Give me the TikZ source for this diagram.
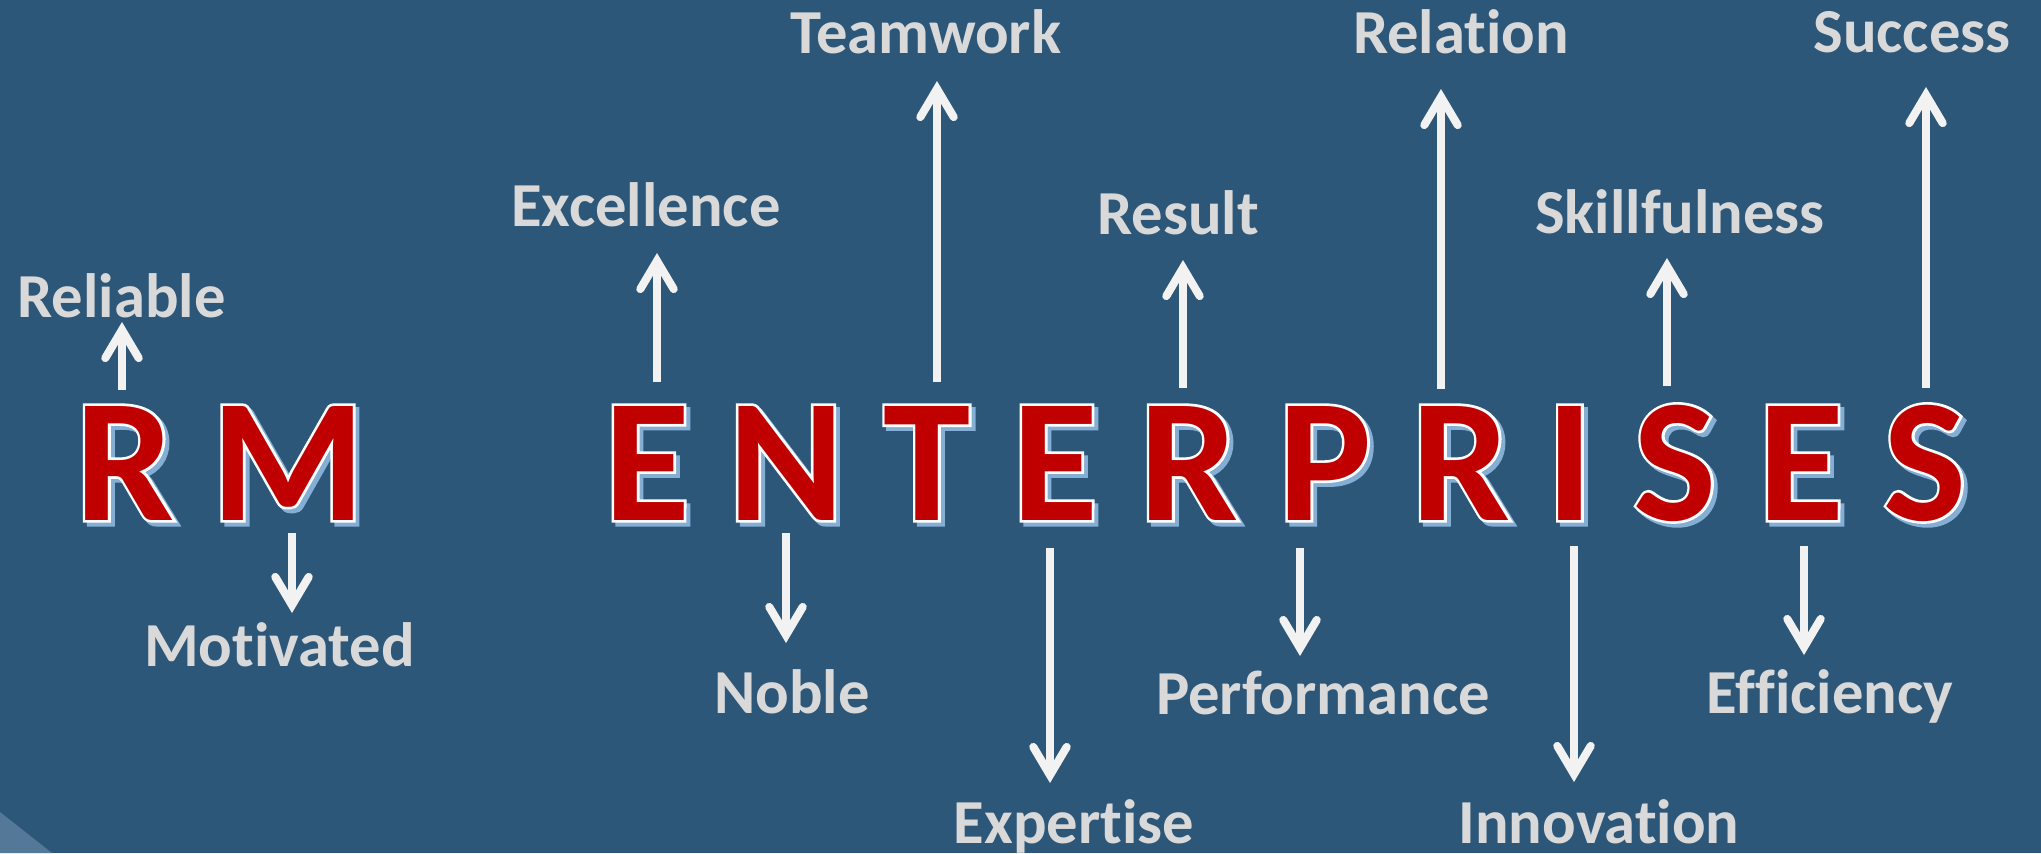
\documentclass[tikz,border=0pt]{standalone}
\usepackage{fontspec}
\setmainfont{Carlito}[Ligatures=NoCommon]
\newfontfamily\halofont{Carlito}[FakeBold=3,Ligatures=NoCommon]
\usepackage{xcolor}
\usetikzlibrary{arrows.meta}

\definecolor{slidebg}{RGB}{45,87,121}
\definecolor{slidecorner}{RGB}{84,121,152}
\definecolor{letterred}{RGB}{192,0,0}
\definecolor{lettershadow}{RGB}{132,174,212}
\definecolor{wordgray}{RGB}{217,217,217}
\definecolor{arrowwhite}{RGB}{242,242,242}

% red capital with white rim and pale blue shadow
\newcommand{\rimletter}[1]{%
  \makebox[0pt][l]{\hspace*{1.1pt}\raisebox{-1.1pt}{\color{lettershadow}\halofont\bfseries#1}}%
  \makebox[0pt][l]{\color{white}\halofont\bfseries#1}%
  #1}

\tikzset{
  letter/.style={inner sep=0pt, anchor=base, text=letterred,
    font=\bfseries\fontsize{50}{50}\selectfont},
  word/.style={inner sep=0pt, anchor=base, text=wordgray,
    font=\bfseries\fontsize{17.8}{20}\selectfont},
  pointer/.style={draw=arrowwhite, line width=2.3pt,
    -{Straight Barb[length=8pt,width=9.5pt,line cap=round]}},
}

\begin{document}
\begin{tikzpicture}[x=0.01cm,y=-0.01cm]
  \useasboundingbox (0,0) rectangle (2041,853);
  \fill[slidebg] (0,0) rectangle (2041,853);
  \fill[slidecorner] (0,812) -- (52,853) -- (0,853) -- cycle;

  \path (125,520)
    node[letter] (R1) {\rimletter{R}} ++(163,0)
    node[letter] (M1) {\rimletter{M}} ++(359,0)
    node[letter] (E1) {\rimletter{E}} ++(139,0)
    node[letter] (N1) {\rimletter{N}} ++(141,0)
    node[letter] (T1) {\rimletter{T}} ++(128,0)
    node[letter] (E2) {\rimletter{E}} ++(134,0)
    node[letter] (R2) {\rimletter{R}} ++(136,0)
    node[letter] (P1) {\rimletter{P}} ++(136,0)
    node[letter] (R3) {\rimletter{R}} ++(109,0)
    node[letter] (I1) {\rimletter{I}} ++(105,0)
    node[letter] (S1) {\rimletter{S}} ++(126,0)
    node[letter] (E3) {\rimletter{E}} ++(124,0)
    node[letter] (S2) {\rimletter{S}}
    ;

  \node[word] (rel)  at (121.5,317) {Reliable};
  \node[word] (mot)  at (279.5,666) {Motivated};
  \node[word] (exc)  at (646,226)   {Excellence};
  \node[word] (team) at (926,53)    {Teamwork};
  \node[word] (nob)  at (792,713)   {Noble};
  \node[word] (expt) at (1074,843)  {Expertise};
  \node[word] (res)  at (1178,234)  {Result};
  \node[word] (perf) at (1323,714)  {Performance};
  \node[word] (rela) at (1461,53)   {Relation};
  \node[word] (inno) at (1599,843)  {Innovation};
  \node[word] (skil) at (1680,233)  {Skillfulness};
  \node[word] (eff)  at (1830,713)  {Efficiency};
  \node[word] (succ) at (1912,52)   {Success};

  \path (R1.base) +(-3,-130) coordinate (relo);
  \path (rel.base) +(0.5,5) coordinate (reli);
  \draw[pointer] (relo) -- (reli);
  \path (M1.base) +(4,13) coordinate (moto);
  \path (mot.base) +(12.5,-53) coordinate (moti);
  \draw[pointer] (moto) -- (moti);
  \path (E1.base) +(10,-138) coordinate (exco);
  \path (exc.base) +(11,27) coordinate (exci);
  \draw[pointer] (exco) -- (exci);
  \path (T1.base) +(10,-138) coordinate (teamo);
  \path (team.base) +(11,28) coordinate (teami);
  \draw[pointer] (teamo) -- (teami);
  \path (N1.base) +(0,13) coordinate (nobo);
  \path (nob.base) +(-6,-70) coordinate (nobi);
  \draw[pointer] (nobo) -- (nobi);
  \path (E2.base) +(-5,28) coordinate (expto);
  \path (expt.base) +(-24,-60) coordinate (expti);
  \draw[pointer] (expto) -- (expti);
  \path (R2.base) +(-6,-132) coordinate (reso);
  \path (res.base) +(5,26) coordinate (resi);
  \draw[pointer] (reso) -- (resi);
  \path (P1.base) +(-25,28) coordinate (perfo);
  \path (perf.base) +(-23,-58) coordinate (perfi);
  \draw[pointer] (perfo) -- (perfi);
  \path (R3.base) +(-20,-131) coordinate (relao);
  \path (rela.base) +(-20,36) coordinate (relai);
  \draw[pointer] (relao) -- (relai);
  \path (I1.base) +(4,26) coordinate (innoo);
  \path (inno.base) +(-25,-61) coordinate (innoi);
  \draw[pointer] (innoo) -- (innoi);
  \path (S1.base) +(-8,-134) coordinate (skilo);
  \path (skil.base) +(-13,25) coordinate (skili);
  \draw[pointer] (skilo) -- (skili);
  \path (E3.base) +(3,26) coordinate (effo);
  \path (eff.base) +(-26,-58) coordinate (effi);
  \draw[pointer] (effo) -- (effi);
  \path (S2.base) +(1,-132) coordinate (succo);
  \path (succ.base) +(14,35) coordinate (succi);
  \draw[pointer] (succo) -- (succi);
\end{tikzpicture}
\end{document}
